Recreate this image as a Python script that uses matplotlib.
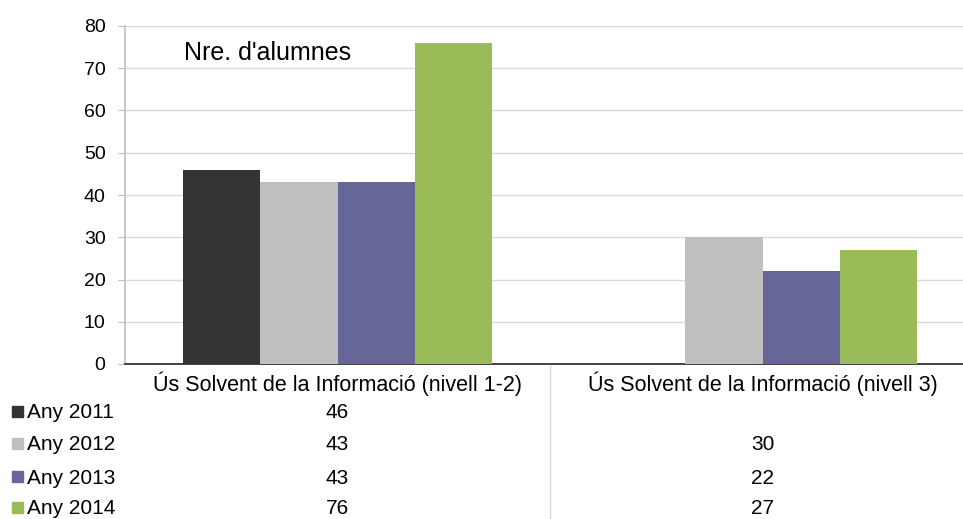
import matplotlib.pyplot as plt
import numpy as np
from matplotlib.patches import Rectangle

plt.rcParams['font.family'] = ['Liberation Sans', 'DejaVu Sans']

# chart data
categories = ["Ús Solvent de la Informació (nivell 1-2)", "Ús Solvent de la Informació (nivell 3)"]
series_names = ["Any 2011", "Any 2012", "Any 2013", "Any 2014"]
any_2011 = [46, np.nan]
any_2012 = [43, 30]
any_2013 = [43, 22]
any_2014 = [76, 27]
values = [any_2011, any_2012, any_2013, any_2014]
colors = ["#333333", "#BFBFBF", "#666699", "#9BBB59"]

W, H = 963, 519
fig = plt.figure(figsize=(W / 100, H / 100), dpi=100)

# axes box in pixels (the right edge runs a little past the image, as in the source)
x0, x1 = 125, 975
y_top, y_zero = 26, 364
ax = fig.add_axes([x0 / W, (H - y_zero) / H, (x1 - x0) / W, (y_zero - y_top) / H])

x = np.arange(len(categories))
w = 0.182
for i, (name, vals) in enumerate(zip(series_names, values)):
    ax.bar(x + (i - 1.5) * w, vals, width=w, color=colors[i], label=name, zorder=3)

ax.set_xlim(-0.5, 1.5)
ax.set_ylim(0, 80)
ax.set_yticks(range(0, 81, 10))
ax.set_xticks([])
ax.grid(axis='y', color='#D9D9D9', linewidth=1, zorder=0)
for s in ['top', 'right']:
    ax.spines[s].set_visible(False)
ax.spines['left'].set_color('#BFBFBF')
ax.spines['left'].set_linewidth(1.2)
ax.spines['bottom'].set_color('#222222')
ax.spines['bottom'].set_linewidth(1.2)
ax.tick_params(axis='y', length=5, color='#BFBFBF', pad=9, labelsize=14)

ax.text(0.069, 0.955, "Nre. d'alumnes", transform=ax.transAxes, fontsize=18,
        va='top', ha='left')

# data table under the chart
def fx(px):
    return px / W

def fy(py):
    return 1 - py / H

cat_px = [x0 + (x1 - x0) * (c + 0.5) / 2 for c in x]
for c, label in enumerate(categories):
    fig.text(fx(cat_px[c]), fy(384), label, ha='center', va='center', fontsize=15.5)

row_y = [411, 443, 476, 507]
for i, name in enumerate(series_names):
    fig.patches.append(Rectangle((fx(12), fy(row_y[i] + 5.5)), 11 / W, 11 / H,
                                 transform=fig.transFigure, color=colors[i]))
    fig.text(fx(27), fy(row_y[i] + 2), name, ha='left', va='center', fontsize=15)
    for c in range(len(categories)):
        v = values[i][c]
        if not np.isnan(v):
            fig.text(fx(cat_px[c]), fy(row_y[i] + 2), f"{v:g}", ha='center', va='center', fontsize=15)

divider_x = (cat_px[0] + cat_px[1]) / 2
fig.add_artist(plt.Line2D([fx(divider_x)] * 2, [fy(y_zero + 2), 0],
                          transform=fig.transFigure, color='#D9D9D9', linewidth=1))

fig.savefig("out.png", dpi=100)
